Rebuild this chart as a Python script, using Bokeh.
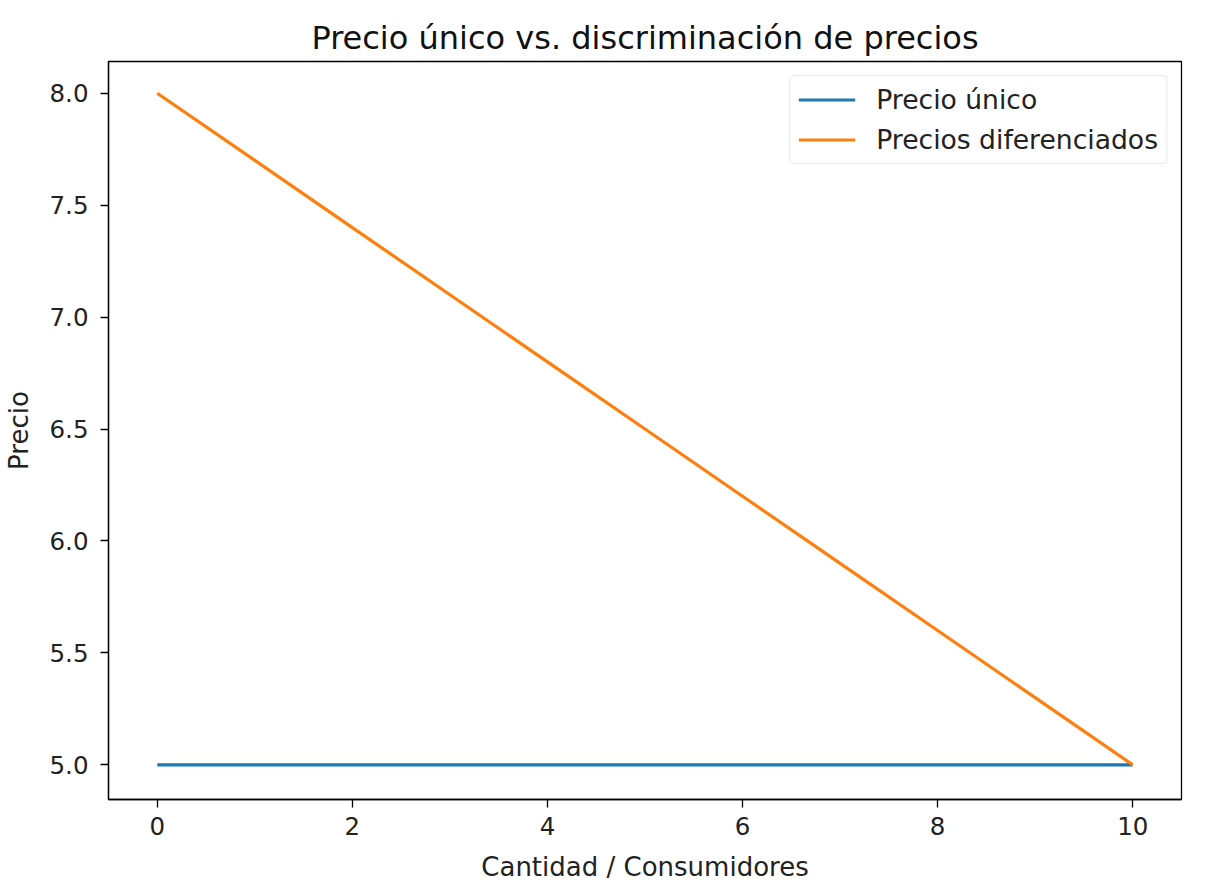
from bokeh.plotting import figure
from bokeh.models import Range1d, FixedTicker, PrintfTickFormatter, Legend, LegendItem
from bokeh.embed import file_html
from bokeh.resources import INLINE

cantidad = [0, 1, 2, 3, 4, 5, 6, 7, 8, 9, 10]
precio_unico = [5.0, 5.0, 5.0, 5.0, 5.0, 5.0, 5.0, 5.0, 5.0, 5.0, 5.0]
precios_diferenciados = [8.0, 7.7, 7.4, 7.1, 6.8, 6.5, 6.2, 5.9, 5.6, 5.3, 5.0]
x_ticks = [0, 2, 4, 6, 8, 10]
y_ticks = [5.0, 5.5, 6.0, 6.5, 7.0, 7.5, 8.0]

FONT = "DejaVu Sans"
FS = "26px"
TICK_FS = "24.5px"

p = figure(width=1206, height=884, output_backend="svg", toolbar_location=None,
           x_range=Range1d(-0.5, 10.5), y_range=Range1d(4.845, 8.142),
           min_border_left=106, min_border_right=25, min_border_top=61, min_border_bottom=84,
           title="Precio único vs. discriminación de precios")

p.title.align = "center"
p.title.text_font = FONT
p.title.text_font_size = "32px"
p.title.text_font_style = "normal"
p.title.text_color = "#111111"
p.title.standoff = 10

p.xgrid.visible = False
p.ygrid.visible = False
p.outline_line_color = "black"
p.outline_line_width = 1.3
p.outline_line_alpha = 1

for ax in (p.xaxis[0], p.yaxis[0]):
    ax.axis_line_color = "black"
    ax.axis_line_width = 1.3
    ax.major_tick_line_color = "black"
    ax.major_tick_line_width = 1.3
    ax.major_tick_out = 8
    ax.major_tick_in = 0
    ax.minor_tick_line_color = None
    ax.major_label_text_font = FONT
    ax.major_label_text_font_size = TICK_FS
    ax.major_label_text_color = "#222222"
    ax.axis_label_text_font = FONT
    ax.axis_label_text_font_size = FS
    ax.axis_label_text_font_style = "normal"
    ax.axis_label_text_color = "#222222"

p.xaxis.ticker = FixedTicker(ticks=x_ticks)
p.yaxis.ticker = FixedTicker(ticks=y_ticks)
p.yaxis.formatter = PrintfTickFormatter(format="%.1f")
p.xaxis.axis_label = "Cantidad / Consumidores"
p.yaxis.axis_label = "Precio"
p.xaxis.major_label_standoff = 9
p.yaxis.major_label_standoff = 12
p.xaxis.axis_label_standoff = 14
p.yaxis.axis_label_standoff = 13

r1 = p.line(cantidad, precio_unico, line_color="#1f77b4", line_width=3.2)
r2 = p.line(cantidad, precios_diferenciados, line_color="#ff7f0e", line_width=3.2)

legend = Legend(items=[LegendItem(label="Precio único", renderers=[r1]),
                       LegendItem(label="Precios diferenciados", renderers=[r2])],
                location="top_right")
legend.margin = 14
legend.padding = 8
legend.spacing = 9
legend.glyph_width = 57
legend.glyph_height = 31
legend.label_height = 31
legend.label_standoff = 21
legend.label_text_font = FONT
legend.label_text_font_size = "26.6px"
legend.label_text_color = "#222222"
legend.border_line_color = "#cfcfcf"
legend.border_line_width = 1.3
legend.border_radius = 5
legend.background_fill_alpha = 0.8
p.add_layout(legend)

open("out.html", "w").write(file_html(p, INLINE))
